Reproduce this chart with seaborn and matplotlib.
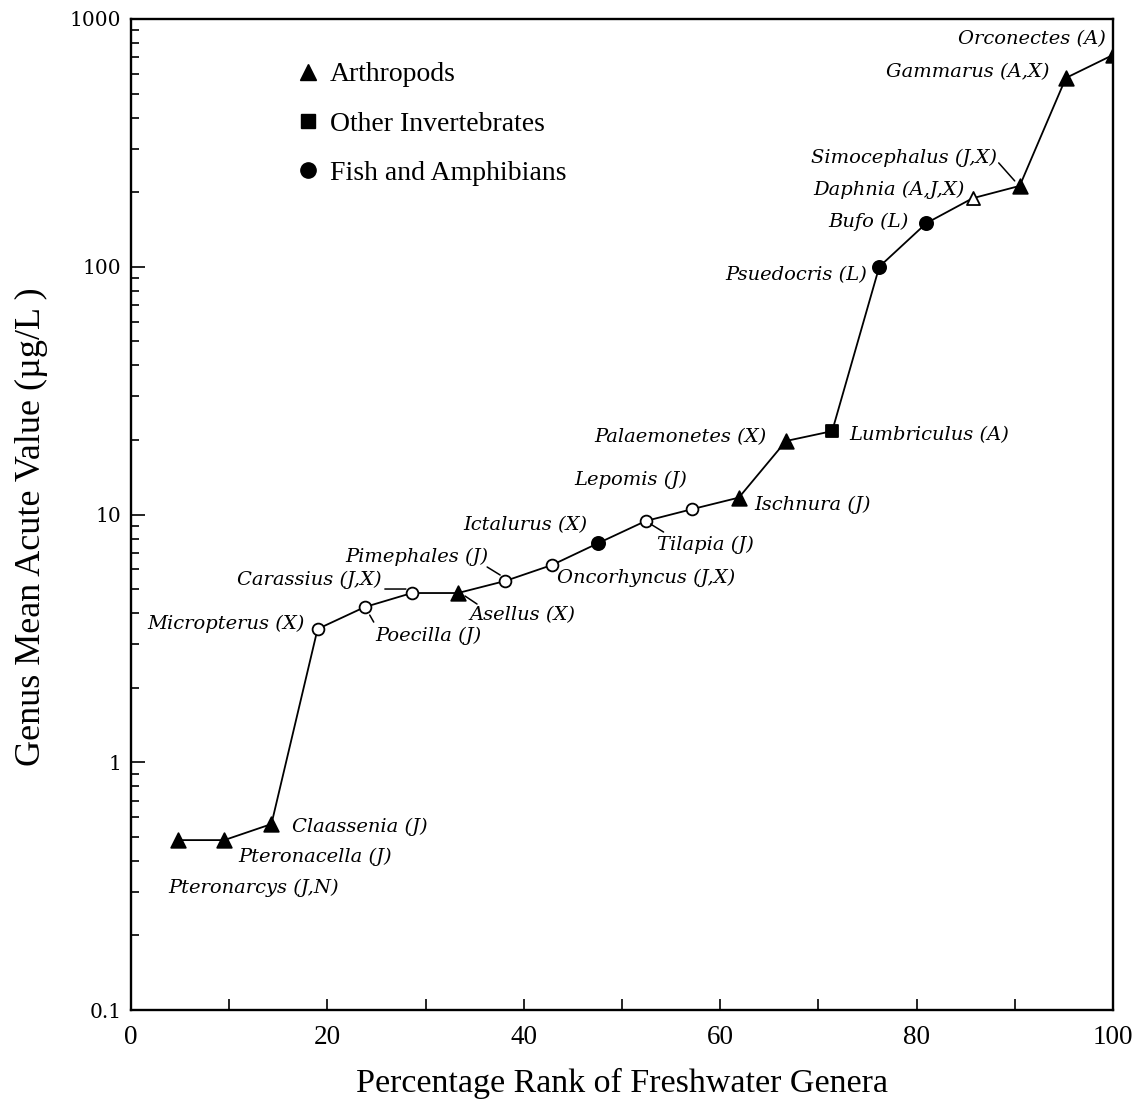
import numpy as np
import pandas as pd
import matplotlib
matplotlib.use("Agg")
import matplotlib.pyplot as plt
from matplotlib.lines import Line2D
from matplotlib.ticker import FixedLocator, LogLocator, NullFormatter, MultipleLocator
from matplotlib.transforms import ScaledTranslation
import seaborn as sns

# ---------------- data ----------------
genera = ["Pteronarcys (J,N)", "Pteronacella (J)", "Claassenia (J)", "Micropterus (X)",
          "Poecilla (J)", "Carassius (J,X)", "Asellus (X)", "Pimephales (J)",
          "Oncorhyncus (J,X)", "Ictalurus (X)", "Tilapia (J)", "Lepomis (J)",
          "Ischnura (J)", "Palaemonetes (X)", "Lumbriculus (A)", "Psuedocris (L)",
          "Bufo (L)", "Daphnia (A,J,X)", "Simocephalus (J,X)", "Gammarus (A,X)",
          "Orconectes (A)"]
rank = [4.8, 9.5, 14.3, 19.0, 23.8, 28.6, 33.3, 38.1, 42.9, 47.6, 52.4,
        57.1, 61.9, 66.7, 71.4, 76.2, 81.0, 85.7, 90.5, 95.2, 100.0]
gmav = [0.485, 0.485, 0.563, 3.45, 4.23, 4.82, 4.82, 5.39, 6.26, 7.67, 9.41,
        10.5, 11.7, 19.8, 21.7, 100, 150, 189, 212, 578, 716]
group = ["Arthropods", "Arthropods", "Arthropods", "Fish and Amphibians",
         "Fish and Amphibians", "Fish and Amphibians", "Arthropods", "Fish and Amphibians",
         "Fish and Amphibians", "Fish and Amphibians", "Fish and Amphibians",
         "Fish and Amphibians", "Arthropods", "Arthropods", "Other Invertebrates",
         "Fish and Amphibians", "Fish and Amphibians", "Arthropods", "Arthropods",
         "Arthropods", "Arthropods"]
filled = [True, True, True, False, False, False, True, False, False, True, False,
          False, True, True, True, True, True, False, True, True, True]

legend_labels = ["Arthropods", "Other Invertebrates", "Fish and Amphibians"]
x_ticks = [0, 20, 40, 60, 80, 100]
y_ticks = [0.1, 1, 10, 100, 1000]
y_tick_labels = ["0.1", "1", "10", "100", "1000"]

df = pd.DataFrame({"genus": genera, "rank": rank, "gmav": gmav,
                   "group": group, "filled": filled})

# ---------------- styling ----------------
marker_map = {"Arthropods": "^", "Other Invertebrates": "s", "Fish and Amphibians": "o"}
size_map = {"Arthropods": 110, "Other Invertebrates": 80, "Fish and Amphibians": 90}

# label placement: (dx px, dy px upward, ha)
label_pos = [(-10, -48, "left"), (14, -17, "left"), (21, -3, "left"), (-13, 5, "right"),
             (11, -29, "left"), (-30, 13, "right"), (11, -22, "left"), (-17, 24, "right"),
             (5, -13, "left"), (-11, 18, "right"), (11, -24, "left"), (-5, 29, "right"),
             (15, -7, "left"), (-19, 4, "right"), (17, -4, "left"), (-12, -8, "right"),
             (-18, 1, "right"), (-8, 8, "right"), (-23, 28, "right"), (-16, 6, "right"),
             (-7, 16, "right")]
# leader lines: index -> (start offset, end offset) in px
leaders = {5: ((-27, 4), (-6, 4)),
           7: ((-18, 14), (-5, 6)),
           6: ((7, -3), (19, -11)),
           4: ((5, -8), (9, -15)),
           10: ((5, -3), (18, -11)),
           18: ((-21, 23), (-5, 5))}

sns.set_theme(style="ticks")
plt.rcParams["font.family"] = ["Liberation Serif", "DejaVu Serif"]
plt.rcParams.update({"text.color": "black", "axes.labelcolor": "black",
                     "xtick.color": "black", "ytick.color": "black",
                     "axes.edgecolor": "black"})

fig = plt.figure(figsize=(11.40, 11.03), dpi=100)
ax = fig.add_axes([131 / 1140, 1 - 1010 / 1103, (1113 - 131) / 1140, (1010 - 19) / 1103])

sns.lineplot(data=df, x="rank", y="gmav", color="black", lw=1.3, ax=ax,
             estimator=None, sort=False, zorder=2)

for (g, f), sub in df.groupby(["group", "filled"]):
    sns.scatterplot(data=sub, x="rank", y="gmav", marker=marker_map[g],
                    s=size_map[g] if f else size_map[g] * 0.8,
                    facecolor="black" if f else "white", edgecolor="black",
                    linewidth=1.3, ax=ax, zorder=3, legend=False)

ax.set_yscale("log")
ax.set_xlim(0, 100)
ax.set_ylim(0.1, 1000)

ax.xaxis.set_major_locator(FixedLocator(x_ticks))
ax.xaxis.set_minor_locator(MultipleLocator(10))
ax.yaxis.set_major_locator(FixedLocator(y_ticks))
ax.set_yticklabels(y_tick_labels)
ax.yaxis.set_minor_locator(LogLocator(base=10, subs=np.arange(2, 10)))
ax.yaxis.set_minor_formatter(NullFormatter())

ax.tick_params(axis="both", which="both", direction="in", color="black", width=1.2)
ax.tick_params(axis="x", which="both", length=8, pad=11, labelsize=19.5)
ax.tick_params(axis="y", which="major", length=10, pad=7)
ax.tick_params(axis="y", which="minor", length=6)
for lab in ax.get_yticklabels():
    lab.set_fontfamily("DejaVu Serif")
    lab.set_fontsize(14.5)
for lab in ax.get_xticklabels():
    lab.set_fontfamily("Liberation Serif")

for sp in ax.spines.values():
    sp.set_linewidth(1.7)
    sp.set_color("black")

ax.set_xlabel("Percentage Rank of Freshwater Genera", fontsize=24.5,
              family="Liberation Serif", labelpad=13)
ax.set_ylabel("Genus Mean Acute Value (\u00b5g/L )", fontsize=26,
              family="Liberation Serif")
ax.yaxis.set_label_coords((48 - 131) / 982, (1010 - 527) / 991)

# annotations
for i, (name, xv, yv) in enumerate(zip(genera, rank, gmav)):
    dx, dy, ha = label_pos[i]
    ax.annotate(name, xy=(xv, yv), xytext=(dx, dy), textcoords="offset pixels",
                ha=ha, va="center", fontsize=14, fontstyle="italic",
                family="DejaVu Serif", color="black", zorder=4)

for i, (s0, s1) in leaders.items():
    t0 = ax.transData + ScaledTranslation(s0[0] / fig.dpi, s0[1] / fig.dpi, fig.dpi_scale_trans)
    t1 = ax.transData + ScaledTranslation(s1[0] / fig.dpi, s1[1] / fig.dpi, fig.dpi_scale_trans)
    ax.annotate("", xy=(rank[i], gmav[i]), xycoords=t1,
                xytext=(rank[i], gmav[i]), textcoords=t0,
                arrowprops=dict(arrowstyle="-", color="black", lw=1.1,
                                shrinkA=0, shrinkB=0))

# legend
handles = [Line2D([], [], linestyle="none", marker=marker_map[g], color="black",
                  markersize=11 if g != "Other Invertebrates" else 10)
           for g in legend_labels]
ax.legend(handles, legend_labels, loc="upper left",
          bbox_to_anchor=(294 / 1140, 1 - 62 / 1103), bbox_transform=fig.transFigure,
          frameon=False, handlelength=1.0, handletextpad=0.3,
          labelspacing=0.86, borderpad=0, borderaxespad=0,
          prop={"family": "Liberation Serif", "size": 20})

fig.savefig("out.png", dpi=100)
